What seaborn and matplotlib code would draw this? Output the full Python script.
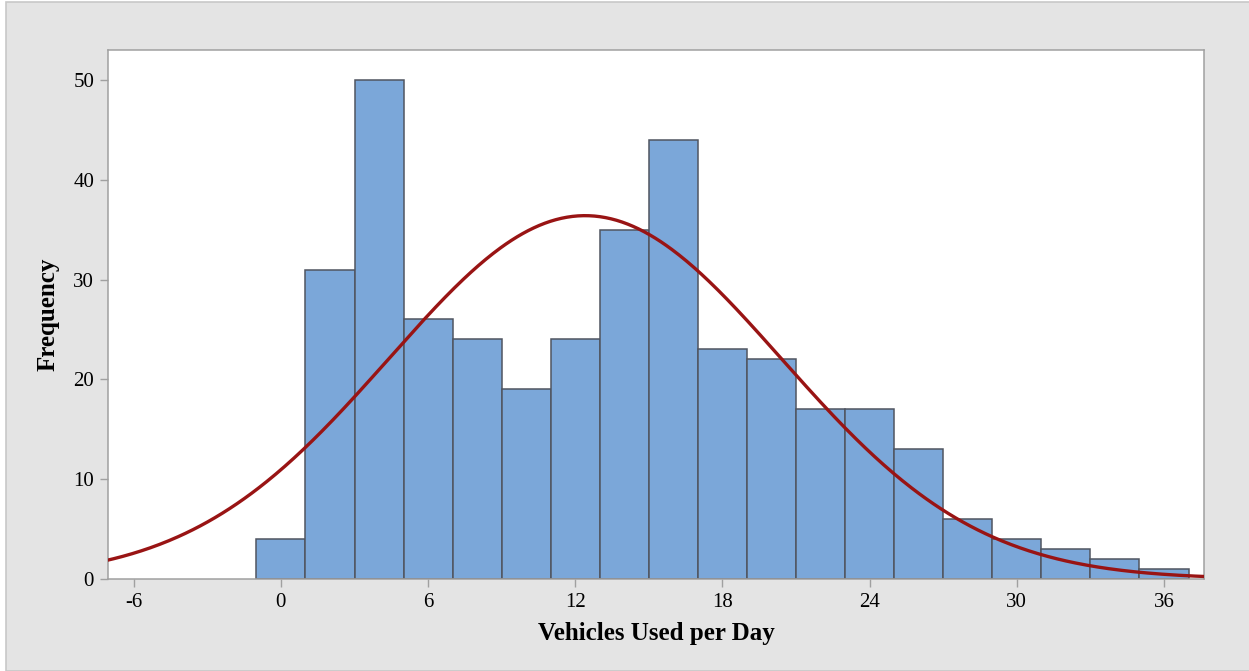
import numpy as np
import pandas as pd
import matplotlib
matplotlib.use("Agg")
import matplotlib.pyplot as plt
from matplotlib.patches import Rectangle
import seaborn as sns

# Data
bin_centers = [0, 2, 4, 6, 8, 10, 12, 14, 16, 18, 20, 22, 24, 26, 28, 30, 32, 34, 36]
counts = [4, 31, 50, 26, 24, 19, 24, 35, 44, 23, 22, 17, 17, 13, 6, 4, 3, 2, 1]
bin_width = 2
fit_mean = 12.4
fit_sd = 8.0
x_ticks = [-6, 0, 6, 12, 18, 24, 30, 36]
y_ticks = [0, 10, 20, 30, 40, 50]

df = pd.DataFrame({"value": bin_centers, "count": counts})
lo = bin_centers[0] - bin_width / 2
hi = bin_centers[-1] + bin_width / 2

sns.set_style("white")
plt.rcParams["font.family"] = ["Liberation Serif", "DejaVu Serif"]
plt.rcParams["text.color"] = "black"
plt.rcParams["axes.labelcolor"] = "black"
plt.rcParams["xtick.labelcolor"] = "black"
plt.rcParams["ytick.labelcolor"] = "black"

fig = plt.figure(figsize=(12.49, 6.71), dpi=100, facecolor="white")
fig.patches.append(Rectangle((6 / 1249, 0), 1, 1 - 2 / 671, transform=fig.transFigure,
                             facecolor="#e4e4e4", edgecolor="#c8c8c8", linewidth=1.2, zorder=-10))
ax = fig.add_axes([108 / 1249, 1 - 579 / 671, (1204 - 108) / 1249, (579 - 50) / 671])
ax.set_facecolor("white")

sns.histplot(data=df, x="value", weights="count", binwidth=bin_width, binrange=(lo, hi), ax=ax,
             color="#7ba7d9", alpha=1.0, edgecolor="#505560", linewidth=1.1)

xs = np.linspace(-7.2, 37.8, 600)
n_total = sum(counts)
ys = n_total * bin_width / (fit_sd * np.sqrt(2 * np.pi)) * np.exp(-0.5 * ((xs - fit_mean) / fit_sd) ** 2)
sns.lineplot(x=xs, y=ys, ax=ax, color="#991414", linewidth=2.4, zorder=5)

ax.set_xlim(-7.05, 37.63)
ax.set_ylim(0, 53.0)
ax.set_xticks(x_ticks)
ax.set_yticks(y_ticks)
ax.set_xticklabels([str(t) for t in x_ticks])
ax.set_yticklabels([str(t) for t in y_ticks])
ax.tick_params(axis="both", direction="out", length=6, width=1, color="#a0a0a0",
               labelsize=15, labelcolor="black", pad=4, left=True, bottom=True)
for s in ax.spines.values():
    s.set_color("#a0a0a0")
    s.set_linewidth(1.1)

ax.set_xlabel("Vehicles Used per Day", fontsize=18, fontweight="bold", labelpad=7, color="black")
ax.set_ylabel("Frequency", fontsize=18, fontweight="bold", labelpad=10, color="black")

fig.savefig("out.png", dpi=100, facecolor=fig.get_facecolor())
